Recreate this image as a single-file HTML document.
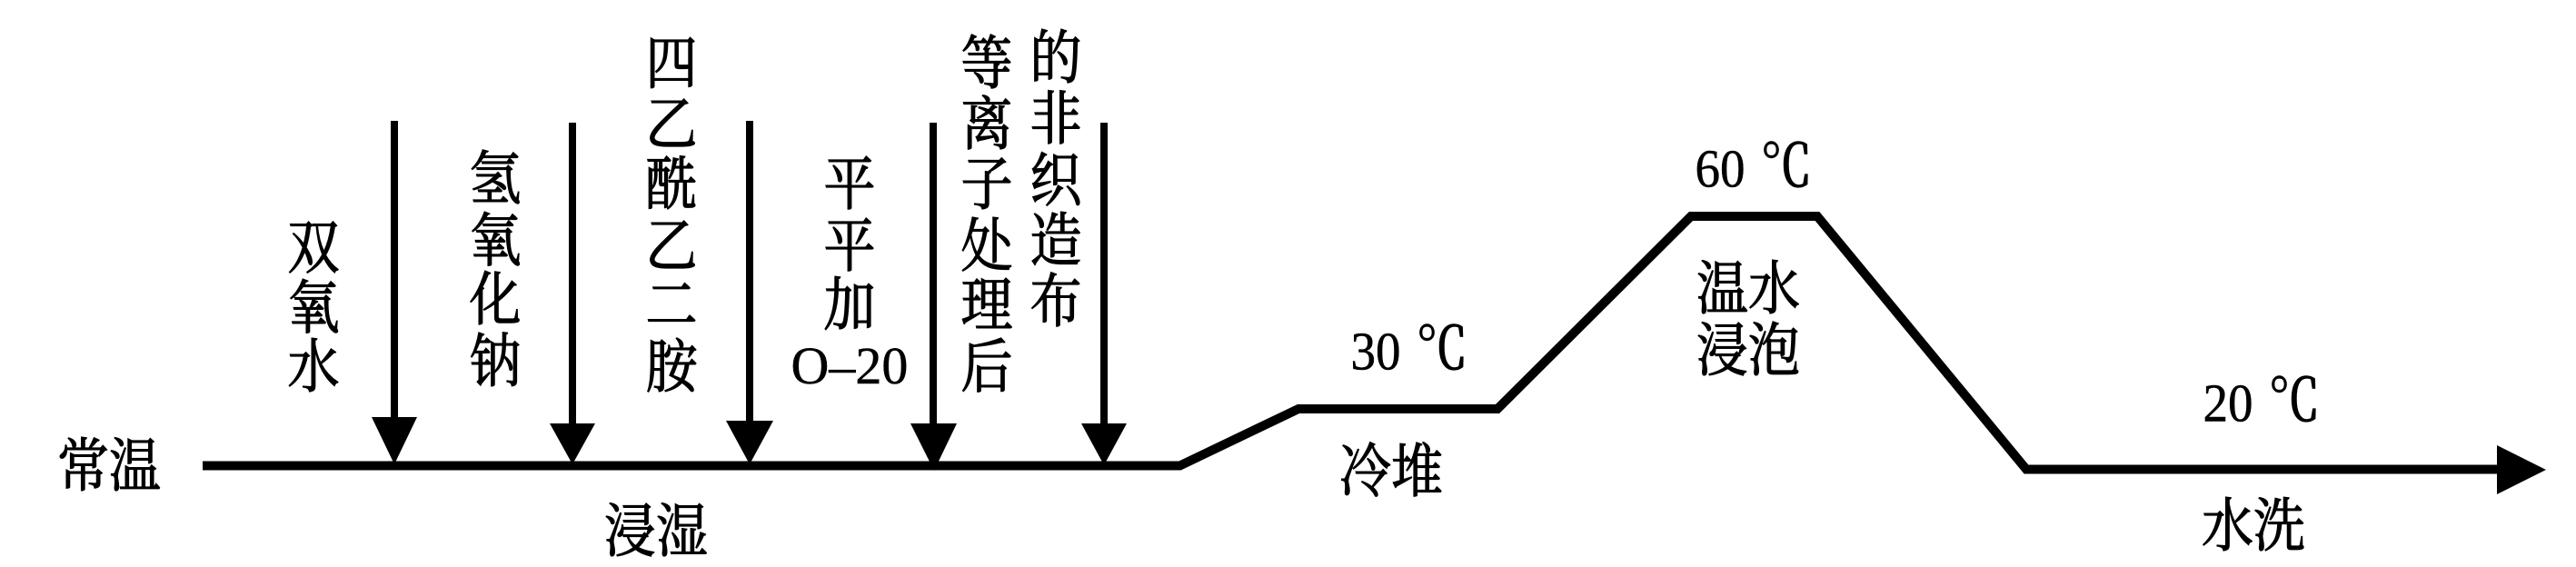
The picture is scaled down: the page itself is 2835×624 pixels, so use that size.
<!DOCTYPE html>
<html><head><meta charset="utf-8">
<style>
html,body{margin:0;padding:0;background:#fff;width:2835px;height:624px;overflow:hidden}
svg{display:block}
text{font-family:"Liberation Serif","Noto Serif CJK SC",serif;font-size:58px;fill:#000;stroke:#000;stroke-width:.5;text-anchor:middle}
.c{font-family:"Noto Serif CJK SC","Liberation Serif",serif;font-size:57px;stroke-width:1.1;transform-box:fill-box;transform-origin:center;transform:scaleY(1.13)}
.d{font-size:58px;transform-box:fill-box;transform-origin:center bottom;transform:scale(.95,1.03)}
</style></head><body>
<svg width="2835" height="624" viewBox="0 0 2835 624" xmlns="http://www.w3.org/2000/svg">
<rect width="2835" height="624" fill="#fff"/>
<g fill="none" stroke="#000">
<path d="M223 512.5H1298.5L1429 450H1648L1861 238H2000L2230 516.5H2752" stroke-width="10" stroke-linejoin="miter"/>
<path d="M434 133V465M630 135V470M825 133V468M1027 135V470M1215 135V470" stroke-width="8"/>
</g>
<g fill="#000">
<polygon points="409,459 459,459 434,511"/>
<polygon points="605,466 655,466 630,511"/>
<polygon points="799,463 851,463 825,511"/>
<polygon points="1002,466 1053,466 1028,518"/>
<polygon points="1190,466 1240,466 1215,512"/>
<polygon points="2748,490 2802,517 2748,544"/>
</g>
<text class="c" x="345" y="292">双</text><text class="c" x="345" y="358">氧</text><text class="c" x="345" y="423">水</text>
<text class="c" x="545" y="216">氢</text><text class="c" x="545" y="284">氧</text><text class="c" x="545" y="349">化</text><text class="c" x="545" y="417">钠</text>
<text class="c" x="739" y="89">四</text><text class="c" x="739" y="156">乙</text><text class="c" x="739" y="222">酰</text><text class="c" x="739" y="290">乙</text><text class="c" x="739" y="355">二</text><text class="c" x="739" y="423">胺</text>
<text class="c" x="935" y="222">平</text><text class="c" x="935" y="290">平</text><text class="c" x="935" y="355">加</text>
<text class="c" x="1086" y="89">等</text><text class="c" x="1086" y="156">离</text><text class="c" x="1086" y="222">子</text><text class="c" x="1086" y="290">处</text><text class="c" x="1086" y="355">理</text><text class="c" x="1086" y="423">后</text>
<text class="c" x="1162" y="83">的</text><text class="c" x="1162" y="150">非</text><text class="c" x="1162" y="218">织</text><text class="c" x="1162" y="284">造</text><text class="c" x="1162" y="351">布</text>
<text class="c" x="120" y="532">常温</text>
<text class="c" x="722" y="604">浸湿</text>
<text class="c" x="1531" y="538">冷堆</text>
<text class="c" x="1924" y="337">温水</text>
<text class="c" x="1924" y="405">浸泡</text>
<text class="c" x="2480" y="598">水洗</text>
<text x="935" y="422">O–20</text>
<text class="d" x="1514" y="407">30</text><text class="c" x="1587" y="403">℃</text>
<text class="d" x="1893" y="206">60</text><text class="c" x="1966" y="202">℃</text>
<text class="d" x="2452" y="464">20</text><text class="c" x="2525" y="460">℃</text>
</svg>
</body></html>
